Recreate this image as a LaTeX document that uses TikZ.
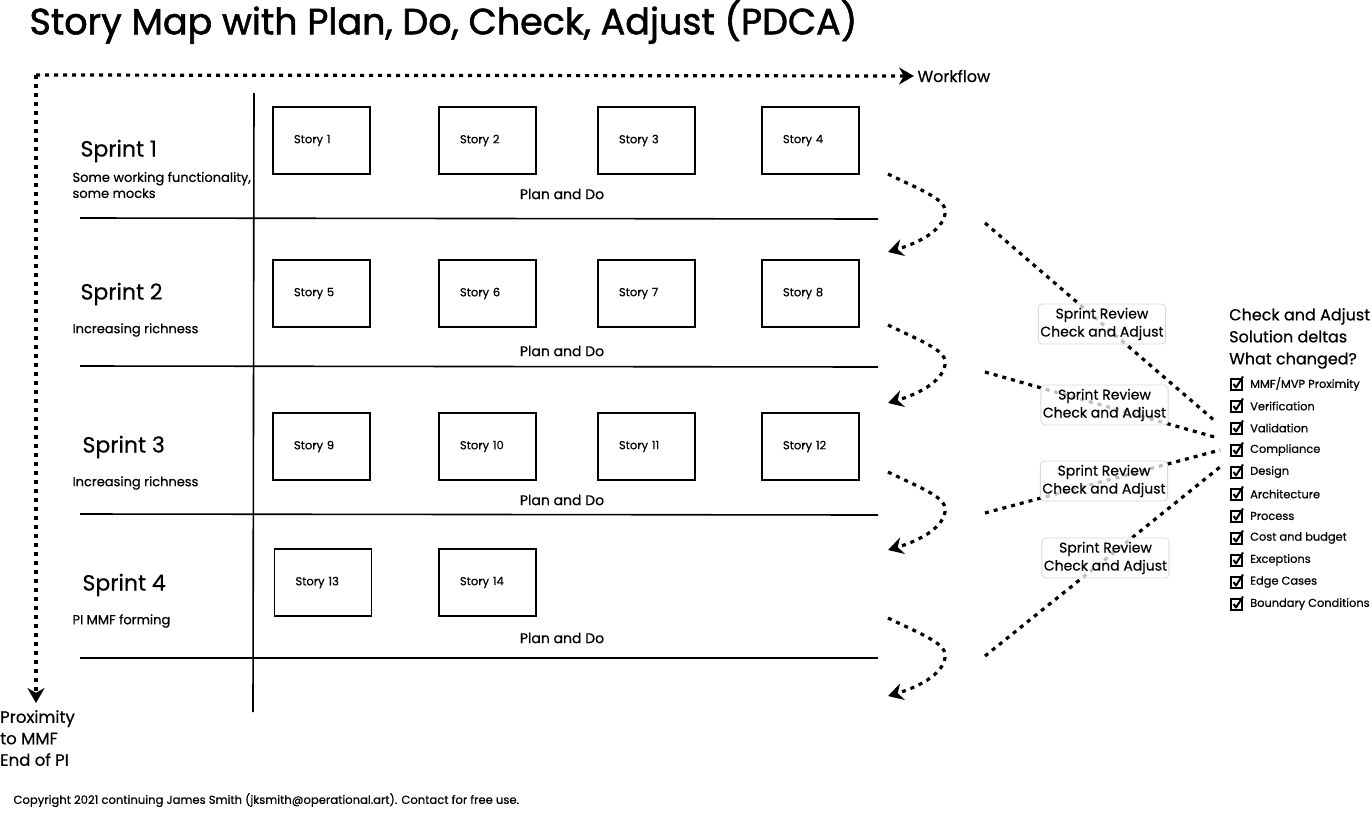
\documentclass[tikz,border=0pt]{standalone}
\usepackage{fontspec}
\setmainfont{Poppins}[FakeBold=0.5]
\newfontfamily\titlefont{Poppins}[FakeBold=1.5]
\usetikzlibrary{arrows.meta,positioning}
\newcommand{\fs}[1]{\fontsize{#1}{#1}\selectfont}
\tikzset{
  story/.style={draw, line width=1.6pt, minimum width=97pt, minimum height=67pt,
    text width=55pt, inner xsep=21pt, align=left, font=\fs{11.5}},
  sprint/.style={anchor=west, font=\fs{22}},
  sprintnote/.style={anchor=west, align=left, font=\fontsize{13}{16}\selectfont},
  plando/.style={font=\fs{14}},
  flow/.style={line width=3.2pt, dash pattern=on 4pt off 5pt},
  flowtip/.style={-{Stealth[length=15pt,width=17pt]}},
  review/.style={draw=black!15, line width=0.8pt, rounded corners=4pt, fill=white,
    fill opacity=0.75, text opacity=1, align=center, minimum width=126pt,
    minimum height=40pt, inner sep=2pt, font=\fontsize{14}{18}\selectfont},
  checkitem/.style={anchor=west, font=\fs{11.4}, inner sep=0pt},
  tickbox/.pic={
    \draw [line width=1.3pt] (-5.5,-5) rectangle (5.5,6);
    \draw [line width=2pt, line join=round] (-3,0) -- (-0.5,3.5) -- (6.5,-7.5);
  }
}
\begin{document}
\begin{tikzpicture}[x=1pt,y=-1pt]
        \useasboundingbox[fill=white] (0,0) rectangle (1372,814);
        % Title %
        \node [anchor=west, font=\titlefont\fs{36.5}] (title) at (26,22) {Story Map with Plan, Do, Check, Adjust (PDCA)};
        % Axes %
        \coordinate (origin) at (36,75);
        \node [anchor=west, font=\fs{16}] (workflow) at (914,76) {Workflow};
        \node [anchor=north west, align=left, font=\fontsize{16.5}{21.5}\selectfont, inner sep=0pt] (proximity) at (0,710) {Proximity\\to MMF\\End of PI};
        \draw [flow, flowtip] (origin) -- (workflow.west);
        \draw [flow, flowtip] (origin) -- (36,703);
        % Grid %
        \draw [line width=1.6pt] (254,93) -- (253,712);
        \draw [line width=1.6pt] (80,218) -- (878,219);
        \draw [line width=1.6pt] (80,366) -- (878,367);
        \draw [line width=1.6pt] (80,514) -- (878,515);
        \draw [line width=1.6pt] (80,658) -- (878,658);
        % Sprints %
        \node [sprint] (sp1) at (77,151) {Sprint 1};
        \node [sprintnote] (d1) at (69,185) {Some working functionality,\\some mocks};
        \node [sprint] (sp2) at (77,294) {Sprint 2};
        \node [sprintnote] (d2) at (69,330) {Increasing richness};
        \node [sprint] (sp3) at (79,447) {Sprint 3};
        \node [sprintnote] (d3) at (69,483) {Increasing richness};
        \node [sprint] (sp4) at (79,585) {Sprint 4};
        \node [sprintnote] (d4) at (69,621) {PI MMF forming};
        % Stories %
        \node [story] (s1) at (321.5,140.5) {Story 1};
        \node [story] (s2) at (487.5,140.5) {Story 2};
        \node [story] (s3) at (646.5,140.5) {Story 3};
        \node [story] (s4) at (810.5,140.5) {Story 4};
        \node [story] (s5) at (321.5,293.5) {Story 5};
        \node [story] (s6) at (487.5,293.5) {Story 6};
        \node [story] (s7) at (646.5,293.5) {Story 7};
        \node [story] (s8) at (810.5,293.5) {Story 8};
        \node [story] (s9) at (321.5,446.5) {Story 9};
        \node [story] (s10) at (487.5,446.5) {Story 10};
        \node [story] (s11) at (646.5,446.5) {Story 11};
        \node [story] (s12) at (810.5,446.5) {Story 12};
        \node [story] (s13) at (323,582.5) {Story 13};
        \node [story] (s14) at (487.5,582.5) {Story 14};
        \node [plando] (pd1) at (562,194) {Plan and Do};
        \node [plando] (pd2) at (562,351) {Plan and Do};
        \node [plando] (pd3) at (562,500) {Plan and Do};
        \node [plando] (pd4) at (562,638) {Plan and Do};
        % Loops back into the next sprint %
        \foreach \i/\y in {1/174,2/325,3/472,4/618} {
          \coordinate (loop\i) at (888,\y);
          \coordinate (next\i) at (888,\y+78);
          \draw [flow, flowtip] (loop\i) .. controls (925,\y+18) and (948,\y+26) .. (945,\y+40)
            .. controls (942,\y+58) and (915,\y+70) .. (next\i);
        }
        % Reviews %
        \coordinate (r1) at (985,223);
        \coordinate (r2) at (985,372);
        \coordinate (r3) at (985,513);
        \coordinate (r4) at (985,656);
        \coordinate (t1) at (1215,421);
        \coordinate (t2) at (1218,438);
        \coordinate (t3) at (1220,450);
        \coordinate (t4) at (1220,467);
        \foreach \i in {1,...,4} {
          \draw [flow] (r\i) -- (t\i);
        }
        \node [review] (rv1) at (1102,324) {Sprint Review\\Check and Adjust};
        \node [review] (rv2) at (1104.5,405) {Sprint Review\\Check and Adjust};
        \node [review] (rv3) at (1104,481) {Sprint Review\\Check and Adjust};
        \node [review] (rv4) at (1105.5,558) {Sprint Review\\Check and Adjust};
        % Checklist %
        \node [anchor=north west, align=left, font=\fontsize{16}{22}\selectfont, inner sep=0pt] (checkhead) at (1229,308) {Check and Adjust\\Solution deltas\\What changed?};
        \foreach \t [count=\i] in {MMF/MVP Proximity, Verification, Validation, Compliance, Design, Architecture, Process, Cost and budget, Exceptions, Edge Cases, Boundary Conditions} {
          \pic at (1236.5,362+22*\i) {tickbox};
          \node [checkitem] (chk\i) at (1250,362+22*\i) {\t};
        }
        % Footer %
        \node [anchor=west, font=\fs{11.6}] (copyright) at (10,800) {Copyright 2021 continuing James Smith (jksmith@operational.art). Contact for free use.};
      \end{tikzpicture}
\end{document}
